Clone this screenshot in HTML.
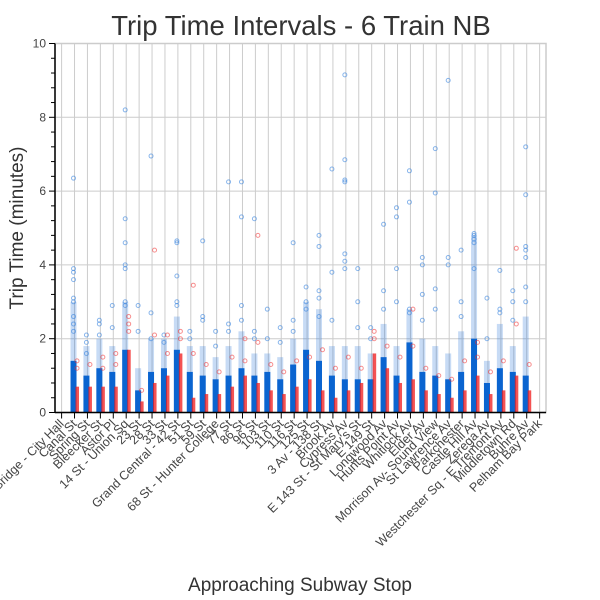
<!DOCTYPE html>
<html><head><meta charset="utf-8">
<style>
html,body{margin:0;padding:0;background:#fff;}
svg{display:block;font-family:"Liberation Sans",sans-serif;}
</style></head>
<body>
<svg id="chart" width="600" height="600" viewBox="0 0 600 600">
  <text x="301" y="35" text-anchor="middle" font-size="27.5" fill="#333">Trip Time Intervals - 6 Train NB</text>
  <text transform="translate(23,228) rotate(-90)" text-anchor="middle" font-size="19" fill="#333">Trip Time (minutes)</text>
  <text x="300" y="591" text-anchor="middle" font-size="19" fill="#333">Approaching Subway Stop</text>
  <g id="grid"></g>
  <g id="marks"></g>
  <g id="axes"></g>
</svg>
<script>
const stops = ["Brooklyn Bridge - City Hall","Canal St","Spring St","Bleecker St","Astor Pl","14 St - Union Sq","23 St","28 St","33 St","Grand Central - 42 St","51 St","59 St","68 St - Hunter College","77 St","86 St","96 St","103 St","110 St","116 St","125 St","3 Av - 138 St","Brook Av","Cypress Av","E 143 St - St Mary's St","E 149 St","Longwood Av","Hunts Point Av","Whitlock Av","Elder Av","Morrison Av- Sound View","St Lawrence Av","Parkchester","Castle Hill Av","Zerega Av","Westchester Sq - E Tremont Av","Middletown Rd","Buhre Av","Pelham Bay Park"];
const blueDense = [0,1.4,1.0,1.2,1.1,1.7,0.6,1.1,1.2,1.7,1.1,1.0,0.9,1.0,1.2,1.0,1.1,0.9,1.3,1.7,1.4,1.0,0.9,0.9,0.9,1.5,1.0,1.9,1.1,1.0,0.9,1.1,2.0,0.8,1.2,1.1,1.0,0];
const blueSparse = [0,3.0,1.8,2.0,1.8,3.0,1.2,2.0,2.0,2.6,1.8,1.8,1.5,1.8,2.2,1.6,1.6,1.5,2.0,3.0,2.8,1.8,1.8,1.8,1.6,2.4,1.8,2.8,2.0,1.8,1.6,2.2,4.8,1.4,2.4,1.8,2.6,0];
const blueOutliers = [[],[6.35,3.9,3.8,3.6,3.1,3.0,2.6,2.4,2.2],[2.1,1.9,1.6],[2.5,2.4,2.1],[2.9,2.3],[8.2,5.25,4.6,4.0,3.9,3.0,2.9],[2.9,2.2],[6.95,2.7,2.0],[2.1,1.9],[4.65,4.6,3.7,3.0,2.9],[2.2,2.0],[4.65,2.6,2.5],[2.2,1.8],[6.25,2.4,2.2],[6.25,5.3,2.9,2.5],[5.25,2.2,2.0],[2.8,2.0],[2.3,1.9],[4.6,2.5,2.2],[3.4,3.0,2.8],[4.8,4.5,3.3,3.1,2.6],[6.6,3.8,2.5],[9.15,6.85,6.3,6.25,4.3,4.1,3.9],[3.9,3.0,2.3],[2.3,2.0],[5.1,3.3,2.8],[5.55,5.3,3.9,3.0],[6.55,5.7,2.8,2.7],[4.2,4.0,3.2,2.5],[7.15,5.95,3.35,2.8],[9.0,4.2,4.0],[4.4,3.0,2.6],[4.85,4.8,4.7,4.6,3.9],[3.1,2.0],[3.85,2.8,2.7],[3.3,3.0,2.5],[7.2,5.9,4.5,4.4,4.2,3.4,3.0],[]];
const redDense = [0,0.7,0.7,0.7,0.7,1.7,0.3,0.8,1.0,1.6,0.4,0.5,0.5,0.7,1.0,0.8,0.6,0.5,0.7,0.9,0.6,0.4,0.6,0.8,1.6,1.2,0.8,0.9,0.6,0.5,0.4,0.6,1.0,0.5,0.6,1.0,0.6,0];
const redOutliers = [[],[1.4,1.2],[1.3],[1.5,1.2],[1.6,1.3],[2.6,2.4,2.2],[0.6],[4.4,2.1],[2.1,1.6],[2.2,2.0],[3.45,1.6],[1.3],[1.1],[1.5],[2.0,1.4],[4.8,1.9],[1.3],[1.1],[1.4],[1.5],[1.7],[1.2],[1.5],[1.2],[2.2,2.0],[1.8],[1.5],[2.8,1.8],[1.2],[1.0],[0.9],[1.4],[1.9,1.5],[1.1],[1.4],[4.45,2.4],[1.3],[]];
const yTicks = [0,2,4,6,8,10];

const NS = "http://www.w3.org/2000/svg";
const L = 55, R = 546, T = 43.5, B = 412.5;
const x0 = 61.6, step = 12.92;
function xScale(i){ return x0 + i*step; }
function yScale(v){ return B - (v/10)*(B-T); }
function mk(tag, attrs, parent){ const e=document.createElementNS(NS,tag); for(const k in attrs) e.setAttribute(k,attrs[k]); parent.appendChild(e); return e; }

const grid = document.getElementById('grid');
const marks = document.getElementById('marks');
const axes = document.getElementById('axes');

mk('rect',{x:L,y:T,width:R-L,height:B-T,fill:'none',stroke:'#ccc','stroke-width':1.5},grid);
yTicks.forEach(v=>{
  const g = mk('line',{x1:L,x2:R,y1:yScale(v),y2:yScale(v),stroke:'#ccc','stroke-width':1},grid);
  
  
});
stops.forEach((s,i)=>{
  const g = mk('line',{x1:xScale(i),x2:xScale(i),y1:T,y2:B,stroke:'#ccc','stroke-width':1},grid);
  
  
});

stops.forEach((s,i)=>{
  const xb = xScale(i)-1, xr = xScale(i)+2.5;
  if(blueSparse[i]>0){
    const r = mk('rect',{x:xb-3,y:yScale(blueSparse[i]),width:6,height:yScale(0)-yScale(blueSparse[i]),fill:'#1f6fd6','fill-opacity':0.25},marks);
    
    
  }
  if(blueDense[i]>0){
    const r = mk('rect',{x:xb-3,y:yScale(blueDense[i]),width:6,height:yScale(0)-yScale(blueDense[i]),fill:'#0a64d0'},marks);
    
    
  }
  blueOutliers[i].forEach(v=>{
    const c = mk('circle',{cx:xb,cy:yScale(v),r:2,fill:'none',stroke:'#3a86e0','stroke-opacity':0.6,'stroke-width':1},marks);
    
    
  });
  if(redDense[i]>0){
    const r = mk('rect',{x:xr-1.5,y:yScale(redDense[i]),width:3.5,height:yScale(0)-yScale(redDense[i]),fill:'#f01818','fill-opacity':0.75},marks);
    
    
  }
  redOutliers[i].forEach(v=>{
    const c = mk('circle',{cx:xr,cy:yScale(v),r:2,fill:'none',stroke:'#f03030','stroke-opacity':0.55,'stroke-width':1},marks);
    
    
  });
});

mk('line',{x1:L,x2:L,y1:T,y2:B,stroke:'#000','stroke-width':1.5},axes);
mk('line',{x1:L,x2:R,y1:B,y2:B,stroke:'#000','stroke-width':1.5},axes);
for(let k=0;k<=25;k++){
  const v = k*0.4;
  const major = k%5===0;
  mk('line',{x1:L-(major?6:4),x2:L,y1:yScale(v),y2:yScale(v),stroke:'#000','stroke-width':1},axes);
}
yTicks.forEach(v=>{
  const t = mk('text',{x:L-9,y:yScale(v)+4,'text-anchor':'end','font-size':12,fill:'#444'},axes);
  t.textContent = v;
  
  
});
stops.forEach((s,i)=>{
  const x = xScale(i);
  mk('line',{x1:x,x2:x,y1:B,y2:B+6,stroke:'#000','stroke-width':1},axes);
  const t = mk('text',{transform:'translate('+(x+3)+','+(B+12)+') rotate(-45)','text-anchor':'end','font-size':12.5,fill:'#444'},axes);
  t.textContent = s;
  
  
});
</script>
</body></html>
